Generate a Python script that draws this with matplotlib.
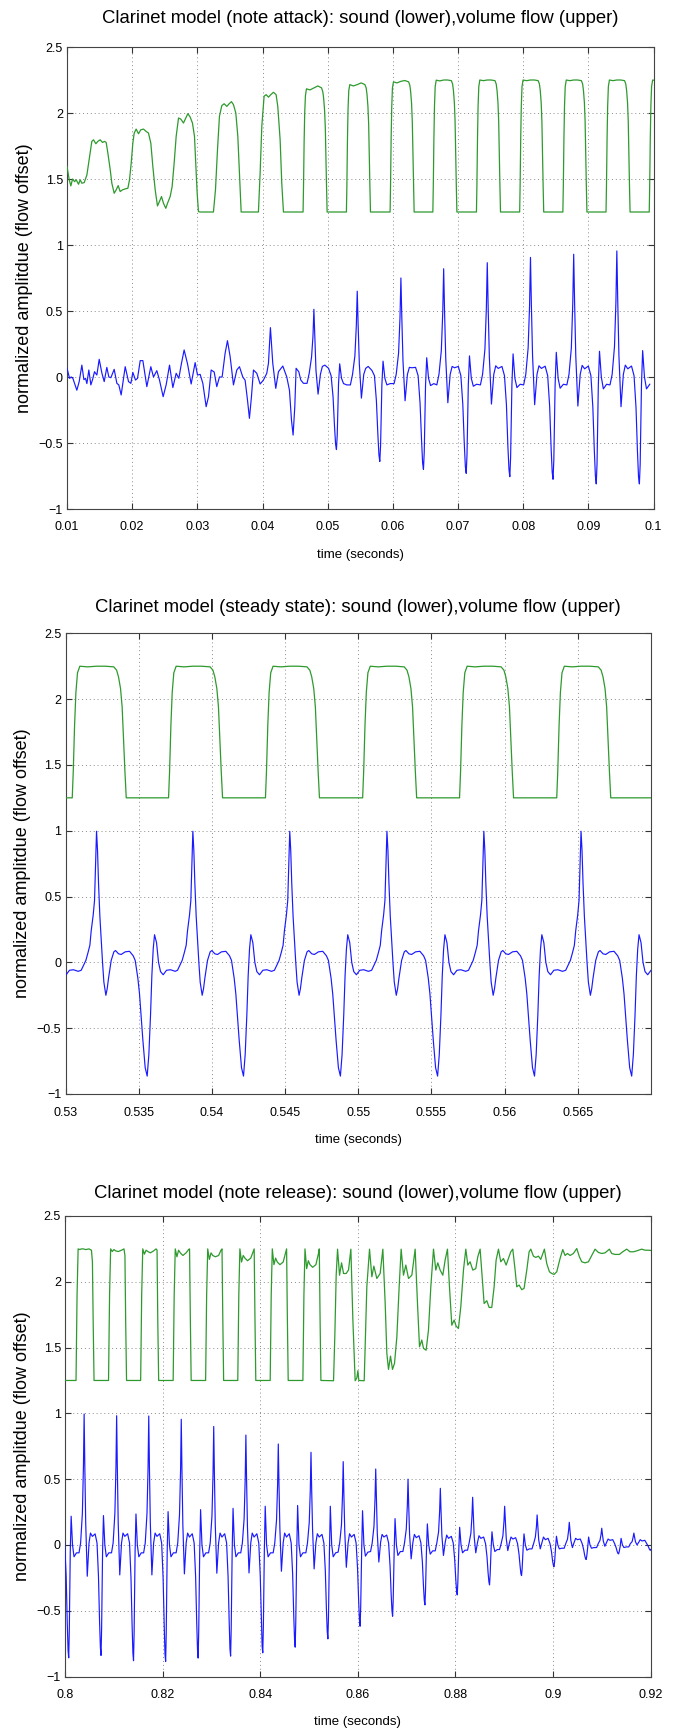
import matplotlib
matplotlib.use("Agg")
import matplotlib.pyplot as plt

plt.rcParams['font.family'] = ['Liberation Sans', 'DejaVu Sans']
plt.rcParams['axes.unicode_minus'] = True

# ---------------------------------------------------------------- common
ytick_vals = [-1, -0.5, 0, 0.5, 1, 1.5, 2, 2.5]
ytick_labels = ['\u22121', '\u22120.5', '0', '0.5', '1', '1.5', '2', '2.5']
ylabel_text = 'normalized amplitdue (flow offset)'
xlabel_text = 'time (seconds)'

# sound-cycle key offsets (s, relative to each main peak)
cycle_offsets = [-0.00105, -0.00072, -0.00036, -0.00014, 0.0, 0.00014, 0.00032,
                 0.00064, 0.00100, 0.00130, 0.00168, 0.00225, 0.00264, 0.00294,
                 0.00316, 0.00333, 0.00346, 0.00358, 0.00378, 0.00396, 0.00424,
                 0.00455, 0.00505]
# flow-cycle key offsets (s, relative to each main sound peak)
flow_offsets = [-0.00166, -0.00159, -0.00150, -0.00141, -0.00130, -0.00114, -0.00060,
                0.0, 0.00060, 0.00118, 0.00137, 0.00150, 0.00164, 0.00175, 0.00184,
                0.00194, 0.00203]
flow_steady_row = [1.25, 1.45, 1.80, 2.05, 2.20, 2.25, 2.245, 2.25, 2.25, 2.245, 2.22,
                   2.17, 2.08, 1.94, 1.70, 1.45, 1.25]

# ---------------------------------------------------------------- panel 1: attack
attack_title = 'Clarinet model (note attack): sound (lower),volume flow (upper)'
attack_xticks = [0.01, 0.02, 0.03, 0.04, 0.05, 0.06, 0.07, 0.08, 0.09, 0.1]
attack_xticklabels = ['0.01', '0.02', '0.03', '0.04', '0.05', '0.06', '0.07', '0.08', '0.09', '0.1']

attack_sound_t = [0.01000, 0.01039, 0.01064, 0.01090, 0.01151, 0.01187, 0.01228, 0.01259,
                  0.01284, 0.01305, 0.01335, 0.01366, 0.01392, 0.01422, 0.01458, 0.01494,
                  0.01535, 0.01571, 0.01611, 0.01642, 0.01673, 0.01724, 0.01765, 0.01795,
                  0.01831, 0.01893, 0.01944, 0.01980, 0.02010, 0.02051, 0.02082, 0.02123,
                  0.02164, 0.02225, 0.02286, 0.02327, 0.02378, 0.02419, 0.02475, 0.02521,
                  0.02573, 0.02624, 0.02675, 0.02716, 0.02751, 0.02797, 0.02849, 0.02905,
                  0.02966, 0.03002, 0.03043, 0.03084, 0.03135, 0.03171, 0.03212, 0.03258,
                  0.03298, 0.03339, 0.03380, 0.03426, 0.03462, 0.03503, 0.03554, 0.03605,
                  0.03646, 0.03697, 0.03733, 0.03769, 0.03799, 0.03830, 0.03861, 0.03912,
                  0.03963, 0.04014, 0.04065, 0.04091, 0.04121, 0.04157, 0.04203, 0.04244,
                  0.04311, 0.04372, 0.04413, 0.04444, 0.04469, 0.04495, 0.04515, 0.04556,
                  0.04587, 0.04628]
attack_sound_v = [0.066, -0.01, 0.0, -0.01, -0.10, -0.035, 0.09, -0.02, -0.01, -0.05,
                  0.053, -0.06, -0.02, 0.04, 0.015, 0.134, 0.03, -0.035, 0.073, 0.0,
                  -0.005, 0.058, -0.048, -0.06, -0.136, 0.078, -0.035, -0.048, 0.035, -0.023,
                  -0.01, 0.124, 0.124, -0.073, 0.078, 0.0, 0.048, -0.023, -0.149, -0.06,
                  0.09, -0.08, 0.028, -0.01, 0.09, 0.205, 0.10, -0.053, 0.109, 0.015,
                  0.02, -0.048, -0.225, -0.149, 0.053, 0.038, -0.073, 0.0, 0.0, 0.18,
                  0.275, 0.154, -0.06, 0.053, 0.078, 0.0, -0.025, -0.174, -0.313, -0.149,
                  0.053, 0.028, -0.053, -0.023, 0.028, 0.104, 0.374, 0.104, -0.086, 0.04,
                  0.083, 0.0, -0.10, -0.326, -0.44, -0.225, 0.066, 0.04, -0.023, -0.048]
attack_peaks = [0.04788, 0.05453, 0.06123, 0.06779, 0.07448, 0.08111, 0.08774, 0.09436]
attack_rows = [
    [-0.048, 0.028, 0.15, 0.31, 0.513, 0.30, 0.05, -0.13, 0.02, 0.08, 0.09, 0.066, 0.01, -0.15, -0.37, -0.51, -0.55, -0.44, -0.05, 0.10, -0.01, -0.05, -0.06],
    [-0.06, 0.02, 0.16, 0.39, 0.65, 0.39, 0.10, -0.16, 0.02, 0.066, 0.08, 0.05, 0.01, -0.18, -0.43, -0.59, -0.64, -0.52, -0.06, 0.12, -0.01, -0.06, -0.05],
    [-0.05, 0.02, 0.18, 0.45, 0.75, 0.45, 0.12, -0.18, 0.02, 0.073, 0.07, 0.073, 0.01, -0.20, -0.47, -0.65, -0.70, -0.57, -0.06, 0.146, -0.01, -0.065, -0.05],
    [-0.06, 0.02, 0.20, 0.49, 0.82, 0.49, 0.14, -0.195, 0.02, 0.08, 0.07, 0.08, 0.01, -0.21, -0.50, -0.68, -0.73, -0.59, -0.06, 0.16, -0.01, -0.07, -0.055],
    [-0.06, 0.02, 0.21, 0.52, 0.866, 0.52, 0.15, -0.205, 0.02, 0.085, 0.065, 0.08, 0.01, -0.21, -0.52, -0.70, -0.755, -0.61, -0.06, 0.175, -0.01, -0.08, -0.055],
    [-0.06, 0.02, 0.22, 0.54, 0.906, 0.54, 0.16, -0.21, 0.02, 0.085, 0.065, 0.082, 0.01, -0.22, -0.53, -0.72, -0.775, -0.63, -0.06, 0.187, -0.01, -0.085, -0.055],
    [-0.06, 0.02, 0.22, 0.56, 0.93, 0.56, 0.16, -0.22, 0.02, 0.088, 0.062, 0.083, 0.01, -0.23, -0.55, -0.75, -0.81, -0.66, -0.06, 0.195, 0.0, -0.09, -0.055],
    [-0.06, 0.02, 0.23, 0.57, 0.955, 0.57, 0.16, -0.225, 0.02, 0.09, 0.062, 0.083, 0.01, -0.23, -0.56, -0.76, -0.81, -0.66, -0.06, 0.20, 0.0, -0.09, -0.055],
]
attack_flow_t = [0.01000, 0.01034, 0.01059, 0.01085, 0.01116, 0.01141, 0.01177, 0.01202,
                 0.01228, 0.01264, 0.01305, 0.01346, 0.01381, 0.01407, 0.01443, 0.01473,
                 0.01509, 0.01545, 0.01576, 0.01601, 0.01627, 0.01663, 0.01688, 0.01724,
                 0.01755, 0.01785, 0.01816, 0.01852, 0.01893, 0.01934, 0.01959, 0.01985,
                 0.02010, 0.02031, 0.02061, 0.02097, 0.02133, 0.02174, 0.02215, 0.02250,
                 0.02286, 0.02317, 0.02353, 0.02388, 0.02419, 0.02450, 0.02480, 0.02516,
                 0.02542, 0.02583, 0.02613, 0.02644, 0.02675, 0.02711, 0.02746, 0.02787,
                 0.02823, 0.02854, 0.02889, 0.02925, 0.02956, 0.02976, 0.02997, 0.03017,
                 0.03043, 0.03247, 0.03278, 0.03309, 0.03339, 0.03375, 0.03411, 0.03452,
                 0.03488, 0.03523, 0.03554, 0.03590, 0.03621, 0.03646, 0.03672, 0.03937,
                 0.03963, 0.03989, 0.04024, 0.04055, 0.04091, 0.04127, 0.04167, 0.04208,
                 0.04234, 0.04270, 0.04295, 0.04321]
attack_flow_v = [1.595, 1.494, 1.448, 1.50, 1.48, 1.494, 1.46, 1.494, 1.468, 1.473,
                 1.53, 1.67, 1.785, 1.797, 1.767, 1.785, 1.797, 1.777, 1.785, 1.777,
                 1.696, 1.57, 1.468, 1.392, 1.418, 1.45, 1.405, 1.418, 1.425, 1.43,
                 1.494, 1.62, 1.772, 1.848, 1.878, 1.843, 1.873, 1.878, 1.86, 1.848,
                 1.772, 1.595, 1.418, 1.296, 1.33, 1.367, 1.316, 1.278, 1.316, 1.367,
                 1.443, 1.62, 1.823, 1.962, 1.954, 1.924, 1.962, 1.995, 1.97, 1.924,
                 1.823, 1.62, 1.392, 1.253, 1.25, 1.25, 1.418, 1.722, 1.975, 2.056,
                 2.07, 2.05, 2.07, 2.086, 2.063, 2.0, 1.823, 1.544, 1.25, 1.25,
                 1.544, 1.90, 2.127, 2.139, 2.12, 2.139, 2.157, 2.139, 2.05, 1.797,
                 1.468, 1.25]
attack_flow_peaks = [0.04788, 0.05453, 0.06123, 0.06779, 0.07448, 0.08111, 0.08774, 0.09436, 0.10099]
attack_flow_rows = [
    [1.25, 1.45, 1.78, 2.00, 2.13, 2.183, 2.175, 2.19, 2.205, 2.19, 2.16, 2.11, 2.02, 1.89, 1.67, 1.44, 1.25],
    [1.25, 1.45, 1.80, 2.03, 2.17, 2.215, 2.205, 2.215, 2.228, 2.215, 2.19, 2.14, 2.05, 1.92, 1.69, 1.45, 1.25],
    [1.25, 1.45, 1.80, 2.04, 2.19, 2.236, 2.228, 2.24, 2.246, 2.236, 2.21, 2.16, 2.07, 1.93, 1.70, 1.45, 1.25],
    [1.25, 1.45, 1.80, 2.05, 2.20, 2.249, 2.243, 2.25, 2.25, 2.245, 2.22, 2.17, 2.08, 1.94, 1.70, 1.45, 1.25],
    flow_steady_row, flow_steady_row, flow_steady_row, flow_steady_row, flow_steady_row,
]

# ---------------------------------------------------------------- panel 2: steady state
steady_title = 'Clarinet model (steady state): sound (lower),volume flow (upper)'
steady_xticks = [0.53, 0.535, 0.54, 0.545, 0.55, 0.555, 0.56, 0.565]
steady_xticklabels = ['0.53', '0.535', '0.54', '0.545', '0.55', '0.555', '0.56', '0.565']
steady_peaks = [0.52549, 0.53212, 0.53870, 0.54532, 0.55196, 0.55858, 0.56522]
steady_flow_peaks = [0.52549, 0.53212, 0.53870, 0.54532, 0.55196, 0.55858, 0.56522, 0.57185]
steady_offsets = [-0.001047, -0.000729, -0.000592, -0.000455, -0.000364, -0.000228,
                  -0.000137, -0.000068, 0.0, 0.000068, 0.000137, 0.000228, 0.000319,
                  0.00041, 0.000501, 0.000638, 0.000729, 0.00082, 0.001002, 0.001184,
                  0.001298, 0.001503, 0.001685, 0.001958, 0.002254, 0.002505, 0.002641,
                  0.002823, 0.002937, 0.003074, 0.003165, 0.003324, 0.003461, 0.003575,
                  0.003689, 0.00378, 0.003871, 0.003962, 0.004099, 0.004235, 0.004372,
                  0.004554, 0.004782, 0.005055, 0.005374]
steady_values = [-0.06, 0.015, 0.07, 0.13, 0.24, 0.36, 0.47, 0.75, 0.996, 0.85, 0.60,
                 0.35, 0.17, 0.0, -0.15, -0.25, -0.20, -0.12, 0.015, 0.08, 0.09, 0.065,
                 0.06, 0.08, 0.084, 0.05, 0.015, -0.12, -0.24, -0.45, -0.59, -0.80, -0.864,
                 -0.70, -0.40, -0.10, 0.10, 0.21, 0.15, 0.0, -0.07, -0.094, -0.06, -0.056,
                 -0.068]

# ---------------------------------------------------------------- panel 3: release
release_title = 'Clarinet model (note release): sound (lower),volume flow (upper)'
release_xticks = [0.8, 0.82, 0.84, 0.86, 0.88, 0.9, 0.92]
release_xticklabels = ['0.8', '0.82', '0.84', '0.86', '0.88', '0.9', '0.92']
release_peaks = [0.79730, 0.80392, 0.81058, 0.81716, 0.82382, 0.83047, 0.83706, 0.84370,
                 0.85040, 0.85700, 0.86366, 0.87028, 0.87690, 0.88352, 0.89008, 0.89673,
                 0.90332, 0.90997, 0.91655]
release_rows = [
    [-0.06, 0.015, 0.24, 0.6, 1.0, 0.6, 0.17, -0.24, 0.015, 0.09, 0.06, 0.084, 0.015, -0.24, -0.59, -0.80, -0.858, -0.65, -0.05, 0.218, 0.0, -0.09, -0.06],
    [-0.06, 0.015, 0.24, 0.6, 0.995, 0.6, 0.17, -0.238, 0.015, 0.09, 0.065, 0.084, 0.015, -0.24, -0.58, -0.78, -0.84, -0.64, -0.05, 0.223, 0.0, -0.09, -0.06],
    [-0.06, 0.015, 0.24, 0.59, 0.982, 0.59, 0.17, -0.228, 0.015, 0.09, 0.065, 0.085, 0.015, -0.25, -0.60, -0.82, -0.88, -0.67, -0.05, 0.235, 0.0, -0.09, -0.06],
    [-0.06, 0.015, 0.24, 0.59, 0.98, 0.59, 0.17, -0.228, 0.015, 0.09, 0.065, 0.085, 0.015, -0.25, -0.60, -0.83, -0.886, -0.67, -0.05, 0.253, 0.0, -0.09, -0.06],
    [-0.06, 0.015, 0.23, 0.57, 0.955, 0.57, 0.16, -0.22, 0.015, 0.09, 0.06, 0.085, 0.015, -0.24, -0.58, -0.80, -0.86, -0.65, -0.05, 0.268, 0.0, -0.09, -0.06],
    [-0.06, 0.015, 0.22, 0.54, 0.90, 0.54, 0.15, -0.215, 0.015, 0.09, 0.06, 0.085, 0.015, -0.24, -0.57, -0.79, -0.845, -0.64, -0.05, 0.278, 0.0, -0.09, -0.06],
    [-0.06, 0.015, 0.20, 0.50, 0.835, 0.50, 0.14, -0.213, 0.015, 0.09, 0.06, 0.085, 0.015, -0.23, -0.55, -0.77, -0.82, -0.62, -0.05, 0.294, 0.0, -0.09, -0.06],
    [-0.06, 0.015, 0.19, 0.46, 0.767, 0.46, 0.13, -0.20, 0.015, 0.09, 0.06, 0.085, 0.015, -0.22, -0.53, -0.72, -0.777, -0.59, -0.05, 0.30, 0.0, -0.09, -0.06],
    [-0.06, 0.015, 0.17, 0.42, 0.704, 0.42, 0.12, -0.182, 0.015, 0.085, 0.06, 0.08, 0.015, -0.20, -0.49, -0.66, -0.714, -0.55, -0.05, 0.294, 0.0, -0.09, -0.06],
    [-0.055, 0.015, 0.15, 0.38, 0.633, 0.38, 0.10, -0.17, 0.015, 0.085, 0.06, 0.08, 0.015, -0.18, -0.42, -0.57, -0.618, -0.48, -0.05, 0.26, 0.0, -0.085, -0.055],
    [-0.05, 0.015, 0.14, 0.35, 0.577, 0.35, 0.09, -0.13, 0.02, 0.08, 0.06, 0.075, 0.015, -0.16, -0.37, -0.50, -0.542, -0.42, -0.05, 0.20, 0.0, -0.08, -0.05],
    [-0.05, 0.015, 0.12, 0.30, 0.50, 0.30, 0.08, -0.106, 0.02, 0.08, 0.055, 0.07, 0.015, -0.13, -0.31, -0.42, -0.456, -0.35, -0.04, 0.16, 0.0, -0.07, -0.045],
    [-0.045, 0.015, 0.10, 0.26, 0.43, 0.26, 0.07, -0.08, 0.02, 0.075, 0.05, 0.065, 0.015, -0.11, -0.26, -0.35, -0.38, -0.29, -0.04, 0.134, 0.0, -0.06, -0.04],
    [-0.04, 0.015, 0.09, 0.22, 0.362, 0.22, 0.06, -0.06, 0.02, 0.07, 0.05, 0.06, 0.01, -0.09, -0.21, -0.28, -0.304, -0.23, -0.03, 0.10, 0.0, -0.05, -0.035],
    [-0.035, 0.01, 0.07, 0.18, 0.294, 0.18, 0.05, -0.043, 0.02, 0.06, 0.045, 0.055, 0.01, -0.07, -0.16, -0.22, -0.233, -0.18, -0.03, 0.084, 0.0, -0.04, -0.03],
    [-0.03, 0.01, 0.06, 0.14, 0.228, 0.14, 0.04, -0.03, 0.02, 0.06, 0.04, 0.05, 0.01, -0.05, -0.12, -0.155, -0.165, -0.13, -0.02, 0.066, 0.0, -0.03, -0.025],
    [-0.025, 0.01, 0.045, 0.11, 0.172, 0.11, 0.035, -0.02, 0.02, 0.05, 0.04, 0.045, 0.01, -0.035, -0.08, -0.105, -0.111, -0.085, -0.015, 0.06, 0.0, -0.025, -0.02],
    [-0.02, 0.01, 0.035, 0.08, 0.127, 0.08, 0.03, -0.01, 0.02, 0.045, 0.035, 0.04, 0.01, -0.02, -0.05, -0.065, -0.068, -0.05, -0.01, 0.05, 0.0, -0.02, -0.015],
    [-0.015, 0.01, 0.025, 0.06, 0.09, 0.06, 0.025, 0.0, 0.02, 0.04, 0.03, 0.035, 0.01, -0.01, -0.03, -0.04, -0.04, -0.03, -0.005, 0.04, 0.0, -0.015, -0.01],
]
release_flow_offsets = [-0.00166, -0.00145, -0.00123, -0.00089, -0.00055, -0.00020,
                        0.00034, 0.00100, 0.00150, 0.00170, 0.00185, 0.00203]
release_flow_peaks = [0.79730, 0.80392, 0.81058, 0.81716, 0.82382, 0.83047, 0.83706, 0.84370, 0.85040]
release_flow_rows = [
    [1.25, 1.9, 2.25, 2.245, 2.25, 2.25, 2.245, 2.25, 2.24, 2.15, 1.7, 1.25],
    [1.25, 1.9, 2.25, 2.245, 2.25, 2.25, 2.245, 2.25, 2.24, 2.15, 1.7, 1.25],
    [1.25, 1.9, 2.25, 2.23, 2.245, 2.235, 2.23, 2.24, 2.25, 2.2, 1.7, 1.25],
    [1.25, 1.9, 2.25, 2.21, 2.24, 2.23, 2.22, 2.235, 2.25, 2.24, 1.7, 1.25],
    [1.25, 1.9, 2.25, 2.19, 2.24, 2.22, 2.20, 2.22, 2.245, 2.25, 1.75, 1.25],
    [1.25, 1.9, 2.25, 2.17, 2.22, 2.2, 2.19, 2.2, 2.24, 2.25, 1.75, 1.25],
    [1.25, 1.9, 2.25, 2.15, 2.2, 2.18, 2.16, 2.18, 2.23, 2.25, 1.75, 1.25],
    [1.25, 1.9, 2.25, 2.13, 2.18, 2.15, 2.13, 2.15, 2.22, 2.25, 1.75, 1.25],
    [1.25, 1.9, 2.25, 2.10, 2.16, 2.13, 2.11, 2.13, 2.21, 2.25, 1.75, 1.25],
]
release_flow_t = [0.85433, 0.85502, 0.85529, 0.85556, 0.85584, 0.85625, 0.85666, 0.85707, 0.85761, 0.85809,
                  0.85857, 0.85898, 0.85945, 0.85980, 0.86000, 0.86020, 0.86130, 0.86184, 0.86239, 0.86287,
                  0.86328, 0.86389, 0.86457, 0.86512, 0.86560, 0.86594, 0.86628, 0.86669, 0.86710, 0.86751,
                  0.86799, 0.86846, 0.86887, 0.86935, 0.86983, 0.87038, 0.87106, 0.87174, 0.87222, 0.87263,
                  0.87310, 0.87345, 0.87399, 0.87447, 0.87495, 0.87550, 0.87597, 0.87638, 0.87686, 0.87741,
                  0.87788, 0.87836, 0.87877, 0.87925, 0.87973, 0.88014, 0.88061, 0.88109, 0.88164, 0.88212,
                  0.88253, 0.88300, 0.88355, 0.88416, 0.88457, 0.88505, 0.88546, 0.88587, 0.88642, 0.88690,
                  0.88744, 0.88792, 0.88833, 0.88881, 0.88928, 0.88983, 0.89038, 0.89085, 0.89133, 0.89174,
                  0.89222, 0.89256, 0.89304, 0.89358, 0.89406, 0.89461, 0.89509, 0.89543, 0.89597, 0.89645,
                  0.89700, 0.89747, 0.89822, 0.89870, 0.89925, 0.89973, 0.90021, 0.90075, 0.90143, 0.90198,
                  0.90246, 0.90294, 0.90348, 0.90416, 0.90485, 0.90539, 0.90587, 0.90655, 0.90724, 0.90792,
                  0.90860, 0.90928, 0.90997, 0.91065, 0.91154, 0.91201, 0.91270, 0.91358, 0.91427, 0.91509,
                  0.91577, 0.91645, 0.91713, 0.91816, 0.91884, 0.91952, 0.92000]
release_flow_v = [1.248, 1.248, 1.60, 2.05, 2.248, 2.05, 2.144, 2.063, 2.063, 2.09,
                  2.248, 1.71, 1.248, 1.27, 1.324, 1.25, 1.248, 1.962, 2.248, 2.038,
                  2.119, 2.025, 2.063, 2.248, 1.835, 1.456, 1.334, 1.435, 1.334, 1.38,
                  1.58, 1.96, 2.248, 2.05, 2.127, 2.025, 2.05, 2.248, 1.835, 1.506,
                  1.557, 1.494, 1.48, 1.633, 1.962, 2.248, 2.089, 2.144, 2.089, 2.05,
                  2.165, 2.248, 1.962, 1.67, 1.709, 1.663, 1.645, 1.81, 2.089, 2.248,
                  2.127, 2.152, 2.089, 2.10, 2.19, 2.248, 2.038, 1.835, 1.856, 1.805,
                  1.805, 1.962, 2.165, 2.248, 2.152, 2.177, 2.127, 2.177, 2.228, 2.248,
                  2.089, 1.962, 1.975, 1.94, 1.95, 2.089, 2.228, 2.248, 2.195, 2.185,
                  2.195, 2.17, 2.248, 2.139, 2.076, 2.063, 2.056, 2.076, 2.177, 2.245,
                  2.20, 2.215, 2.20, 2.215, 2.253, 2.19, 2.152, 2.144, 2.152, 2.20,
                  2.248, 2.223, 2.215, 2.22, 2.248, 2.215, 2.208, 2.208, 2.228, 2.248,
                  2.228, 2.228, 2.235, 2.248, 2.24, 2.24, 2.238]


def build(peaks, offsets, rows):
    t, v = [], []
    for p, row in zip(peaks, rows):
        for o, val in zip(offsets, row):
            t.append(p + o)
            v.append(val)
    return t, v


# assemble series
a_ct, a_cv = build(attack_peaks, cycle_offsets, attack_rows)
attack_sound = (attack_sound_t + a_ct, attack_sound_v + a_cv)
a_ft, a_fv = build(attack_flow_peaks, flow_offsets, attack_flow_rows)
attack_flow = (attack_flow_t + a_ft, attack_flow_v + a_fv)

steady_sound = build(steady_peaks, steady_offsets, [steady_values] * len(steady_peaks))
steady_flow = build(steady_flow_peaks, flow_offsets, [flow_steady_row] * len(steady_flow_peaks))

release_sound = build(release_peaks, cycle_offsets, release_rows)
r_ft, r_fv = build(release_flow_peaks, release_flow_offsets, release_flow_rows)
release_flow = (r_ft + release_flow_t, r_fv + release_flow_v)

BLUE = '#1a1aff'
GREEN = '#2e9a2e'

W, H = 675.0, 1729.0
panels = [
    dict(rect=(67, 47, 653.6, 509), title=attack_title, pad=17.0, xlim=(0.01, 0.1),
         xticks=attack_xticks, xtl=attack_xticklabels, sound=attack_sound, flow=attack_flow),
    dict(rect=(65.5, 633.3, 651, 1094), title=steady_title, pad=15.0, xlim=(0.53, 0.57),
         xticks=steady_xticks, xtl=steady_xticklabels, sound=steady_sound, flow=steady_flow),
    dict(rect=(65, 1216, 650.7, 1676.5), title=release_title, pad=13.0, xlim=(0.8, 0.92),
         xticks=release_xticks, xtl=release_xticklabels, sound=release_sound, flow=release_flow),
]

fig = plt.figure(figsize=(W / 100, H / 100), dpi=100)
fig.patch.set_facecolor('white')

for p in panels:
    x0, y0, x1, y1 = p['rect']
    ax = fig.add_axes([x0 / W, 1 - y1 / H, (x1 - x0) / W, (y1 - y0) / H])
    ax.plot(p['flow'][0], p['flow'][1], color=GREEN, lw=0.9, zorder=3)
    ax.plot(p['sound'][0], p['sound'][1], color=BLUE, lw=0.85, zorder=3)
    ax.set_xlim(*p['xlim'])
    ax.set_ylim(-1, 2.5)
    ax.set_xticks(p['xticks'])
    ax.set_xticklabels(p['xtl'])
    ax.set_yticks(ytick_vals)
    ax.set_yticklabels(ytick_labels)
    ax.grid(True, linestyle=(0, (1, 3)), color='#8c8c8c', linewidth=0.7, zorder=0)
    ax.tick_params(direction='in', length=4, width=0.8, top=True, right=True,
                   labelsize=9, colors='#333333', labelcolor='black')
    ax.tick_params(axis='x', pad=9)
    ax.tick_params(axis='y', pad=3)
    for s in ax.spines.values():
        s.set_color('#444444')
        s.set_linewidth(0.8)
    ax.set_title(p['title'], fontsize=13.3, pad=p['pad'])
    ax.set_xlabel(xlabel_text, fontsize=9.5, labelpad=11)
    ax.set_ylabel(ylabel_text, fontsize=13, labelpad=4)

fig.savefig('out.png', dpi=100)
